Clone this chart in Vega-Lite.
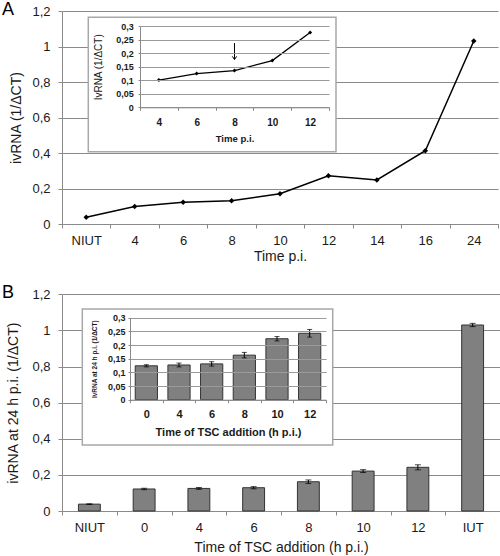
{
  "$schema": "https://vega.github.io/schema/vega-lite/v6.json",
  "width": 500,
  "height": 556,
  "autosize": "none",
  "padding": 0,
  "background": "white",
  "config": {
    "font": "Liberation Sans",
    "view": {"stroke": null},
    "axis": {"domainColor": "#8a8a8a", "tickColor": "#8a8a8a", "gridColor": "#8a8a8a", "labelColor": "#1a1a1a", "titleColor": "#1a1a1a", "titleFontWeight": "normal", "labelAngle": 0}
  },
  "datasets": {
    "timecourse": [
      {"time": "NIUT", "ivrna": 0.038},
      {"time": "4", "ivrna": 0.098},
      {"time": "6", "ivrna": 0.122},
      {"time": "8", "ivrna": 0.131},
      {"time": "10", "ivrna": 0.171},
      {"time": "12", "ivrna": 0.272},
      {"time": "14", "ivrna": 0.248},
      {"time": "16", "ivrna": 0.413},
      {"time": "24", "ivrna": 1.031}
    ],
    "timecourseInset": [
      {"time": "4", "ivrna": 0.101},
      {"time": "6", "ivrna": 0.125},
      {"time": "8", "ivrna": 0.136},
      {"time": "10", "ivrna": 0.173},
      {"time": "12", "ivrna": 0.277}
    ],
    "tsc": [
      {"time": "NIUT", "ivrna": 0.038, "err": 0.002},
      {"time": "0", "ivrna": 0.122, "err": 0.004},
      {"time": "4", "ivrna": 0.125, "err": 0.005},
      {"time": "6", "ivrna": 0.129, "err": 0.006},
      {"time": "8", "ivrna": 0.162, "err": 0.01},
      {"time": "10", "ivrna": 0.221, "err": 0.008},
      {"time": "12", "ivrna": 0.242, "err": 0.014},
      {"time": "IUT", "ivrna": 1.03, "err": 0.009}
    ],
    "tscInset": [
      {"time": "0", "ivrna": 0.124, "err": 0.004},
      {"time": "4", "ivrna": 0.127, "err": 0.007},
      {"time": "6", "ivrna": 0.131, "err": 0.008},
      {"time": "8", "ivrna": 0.163, "err": 0.01},
      {"time": "10", "ivrna": 0.223, "err": 0.008},
      {"time": "12", "ivrna": 0.243, "err": 0.014}
    ]
  },
  "layer": [
    {
      "data": {"name": "timecourse"},
      "encoding": {
        "x": {
          "field": "time", "type": "ordinal",
          "scale": {"type": "band", "domain": ["NIUT", "4", "6", "8", "10", "12", "14", "16", "24"], "range": [62, 498], "paddingInner": 0, "paddingOuter": 0},
          "axis": {"title": "Time p.i.", "orient": "bottom", "offset": -332, "tickBand": "extent", "tickSize": 4, "labelPadding": 6, "labelFontSize": 13, "titleFontSize": 14, "titlePadding": 2, "grid": false, "zindex": 0}
        },
        "y": {
          "field": "ivrna", "type": "quantitative",
          "scale": {"domain": [0, 1.2], "range": [224, 11], "nice": false},
          "axis": {"title": "ivRNA (1/ΔCT)", "orient": "left", "offset": -62, "values": [0, 0.2, 0.4, 0.6, 0.8, 1, 1.2], "format": "~g", "labelExpr": "replace(datum.label, '.', ',')", "tickSize": 4, "labelPadding": 8, "labelFontSize": 13, "titleFontSize": 14, "titlePadding": 8, "grid": true, "zindex": 0}
        }
      },
      "layer": [
        {"mark": {"type": "line", "color": "black", "strokeWidth": 1.5}},
        {"mark": {"type": "point", "shape": "diamond", "filled": true, "color": "black", "size": 30, "opacity": 1}},
        {
          "transform": [{"filter": "datum.time == 'NIUT'"}],
          "mark": {"type": "text", "text": "A", "fontSize": 18, "align": "center", "baseline": "alphabetic", "dx": -54, "color": "black"},
          "encoding": {
            "x": {"field": "time", "type": "ordinal", "bandPosition": 0},
            "y": {"datum": 1.175, "type": "quantitative"}
          }
        }
      ]
    },
    {
      "data": {"name": "timecourseInset"},
      "encoding": {
        "x": {
          "field": "time", "type": "ordinal",
          "scale": {"type": "band", "domain": ["4", "6", "8", "10", "12"], "range": [140, 329], "paddingInner": 0, "paddingOuter": 0},
          "axis": {"title": "Time p.i.", "orient": "bottom", "offset": -448.7, "tickBand": "extent", "tickSize": 3, "labelPadding": 7, "labelFontSize": 10, "labelFontWeight": "bold", "titleFontSize": 9.6, "titleFontWeight": "bold", "titlePadding": 6, "grid": false, "zindex": 1}
        },
        "y": {
          "field": "ivrna", "type": "quantitative",
          "scale": {"domain": [0, 0.3], "range": [107.3, 26.3], "nice": false},
          "axis": {"title": "IvRNA (1/ΔCT)", "orient": "left", "offset": -140, "values": [0, 0.05, 0.1, 0.15, 0.2, 0.25, 0.3], "format": "~g", "labelExpr": "replace(datum.label, '.', ',')", "tickSize": 2, "labelPadding": 4.7, "labelFontSize": 9, "labelFontWeight": "bold", "titleFontSize": 10, "titlePadding": 12, "grid": true, "gridColor": "#9a9a9a", "zindex": 1}
        }
      },
      "layer": [
        {
          "transform": [{"filter": "datum.time == '4'"}],
          "mark": {"type": "rect", "fill": "white", "stroke": "#a8a8a8", "strokeWidth": 1.5},
          "encoding": {
            "x": {"field": "time", "type": "ordinal", "bandPosition": -1.368},
            "x2": {"datum": "12", "bandPosition": 1.185},
            "y": {"datum": 0.3333, "type": "quantitative"},
            "y2": {"datum": -0.1644}
          }
        },
        {"mark": {"type": "line", "color": "black", "strokeWidth": 1.3, "zindex": 2}},
        {"mark": {"type": "point", "shape": "diamond", "filled": true, "color": "black", "size": 16, "opacity": 1, "zindex": 2}},
        {
          "transform": [{"filter": "datum.time == '8'"}],
          "mark": {"type": "rule", "color": "black", "strokeWidth": 1, "zindex": 2},
          "encoding": {
            "x": {"field": "time", "type": "ordinal"},
            "y": {"datum": 0.238, "type": "quantitative"},
            "y2": {"datum": 0.177}
          }
        },
        {
          "transform": [{"filter": "datum.time == '8'"}],
          "mark": {"type": "point", "shape": "M -0.7 -1 L 0 0 L 0.7 -1", "filled": false, "stroke": "black", "strokeWidth": 1, "size": 40, "opacity": 1, "zindex": 2},
          "encoding": {
            "x": {"field": "time", "type": "ordinal"},
            "y": {"datum": 0.177, "type": "quantitative"}
          }
        }
      ]
    },
    {
      "data": {"name": "tsc"},
      "encoding": {
        "x": {
          "field": "time", "type": "ordinal",
          "scale": {"type": "band", "domain": ["NIUT", "0", "4", "6", "8", "10", "12", "IUT"], "range": [62, 500], "paddingInner": 0, "paddingOuter": 0},
          "axis": {"title": "Time of TSC addition  (h p.i.)", "orient": "bottom", "offset": -45, "tickBand": "extent", "tickSize": 4, "labelPadding": 6, "labelFontSize": 13, "titleFontSize": 14, "titlePadding": 6, "grid": false, "zindex": 0}
        },
        "y": {
          "field": "ivrna", "type": "quantitative",
          "scale": {"domain": [0, 1.2], "range": [511, 294.3], "nice": false},
          "axis": {"title": "ivRNA at 24 h p.i. (1/ΔCT)", "orient": "left", "offset": -62, "values": [0, 0.2, 0.4, 0.6, 0.8, 1, 1.2], "format": "~g", "labelExpr": "replace(datum.label, '.', ',')", "tickSize": 4, "labelPadding": 8, "labelFontSize": 13, "titleFontSize": 14, "titlePadding": 11, "grid": true, "zindex": 0}
        }
      },
      "layer": [
        {"mark": {"type": "bar", "fill": "#808080", "stroke": "#333333", "strokeWidth": 1, "width": {"band": 0.4}}},
        {"mark": {"type": "errorbar", "color": "black", "ticks": {"size": 6, "color": "black"}, "rule": {"color": "black"}}, "encoding": {"yError": {"field": "err"}}},
        {
          "transform": [{"filter": "datum.time == 'NIUT'"}],
          "mark": {"type": "text", "text": "B", "fontSize": 18, "align": "center", "baseline": "alphabetic", "dx": -54, "color": "black"},
          "encoding": {
            "x": {"field": "time", "type": "ordinal", "bandPosition": 0},
            "y": {"datum": 1.179, "type": "quantitative"}
          }
        }
      ]
    },
    {
      "data": {"name": "tscInset"},
      "encoding": {
        "x": {
          "field": "time", "type": "ordinal",
          "scale": {"type": "band", "domain": ["0", "4", "6", "8", "10", "12"], "range": [130, 326], "paddingInner": 0, "paddingOuter": 0},
          "axis": {"title": "Time of TSC addition (h p.i.)", "orient": "bottom", "offset": -156.3, "tickBand": "extent", "tickSize": 3, "labelPadding": 6, "labelFontSize": 11, "labelFontWeight": "bold", "titleFontSize": 11, "titleFontWeight": "bold", "titlePadding": 7, "grid": false, "zindex": 1}
        },
        "y": {
          "field": "ivrna", "type": "quantitative",
          "scale": {"domain": [0, 0.3], "range": [399.7, 317.7], "nice": false},
          "axis": {"title": "IvRNA at 24 h p.i. (1/ΔCT)", "orient": "left", "offset": -130, "values": [0, 0.05, 0.1, 0.15, 0.2, 0.25, 0.3], "format": "~g", "labelExpr": "replace(datum.label, '.', ',')", "tickSize": 2, "labelPadding": 3, "labelFontSize": 9, "labelFontWeight": "bold", "titleFontSize": 6.5, "titleFontWeight": "bold", "titlePadding": 10, "grid": true, "gridColor": "#9a9a9a", "zindex": 1}
        }
      },
      "layer": [
        {
          "transform": [{"filter": "datum.time == '0'"}],
          "mark": {"type": "rect", "fill": "white", "stroke": "#a8a8a8", "strokeWidth": 1.5},
          "encoding": {
            "x": {"field": "time", "type": "ordinal", "bandPosition": -1.46},
            "x2": {"datum": "12", "bandPosition": 1.206},
            "y": {"datum": 0.3319, "type": "quantitative"},
            "y2": {"datum": -0.1657}
          }
        },
        {"mark": {"type": "bar", "fill": "#808080", "stroke": "#333333", "strokeWidth": 1, "width": {"band": 0.68}, "zindex": 2}},
        {"mark": {"type": "errorbar", "color": "black", "ticks": {"size": 5, "color": "black", "zindex": 2}, "rule": {"color": "black", "zindex": 2}}, "encoding": {"yError": {"field": "err"}}}
      ]
    }
  ],
  "resolve": {
    "scale": {"x": "independent", "y": "independent"},
    "axis": {"x": "independent", "y": "independent"}
  }
}
